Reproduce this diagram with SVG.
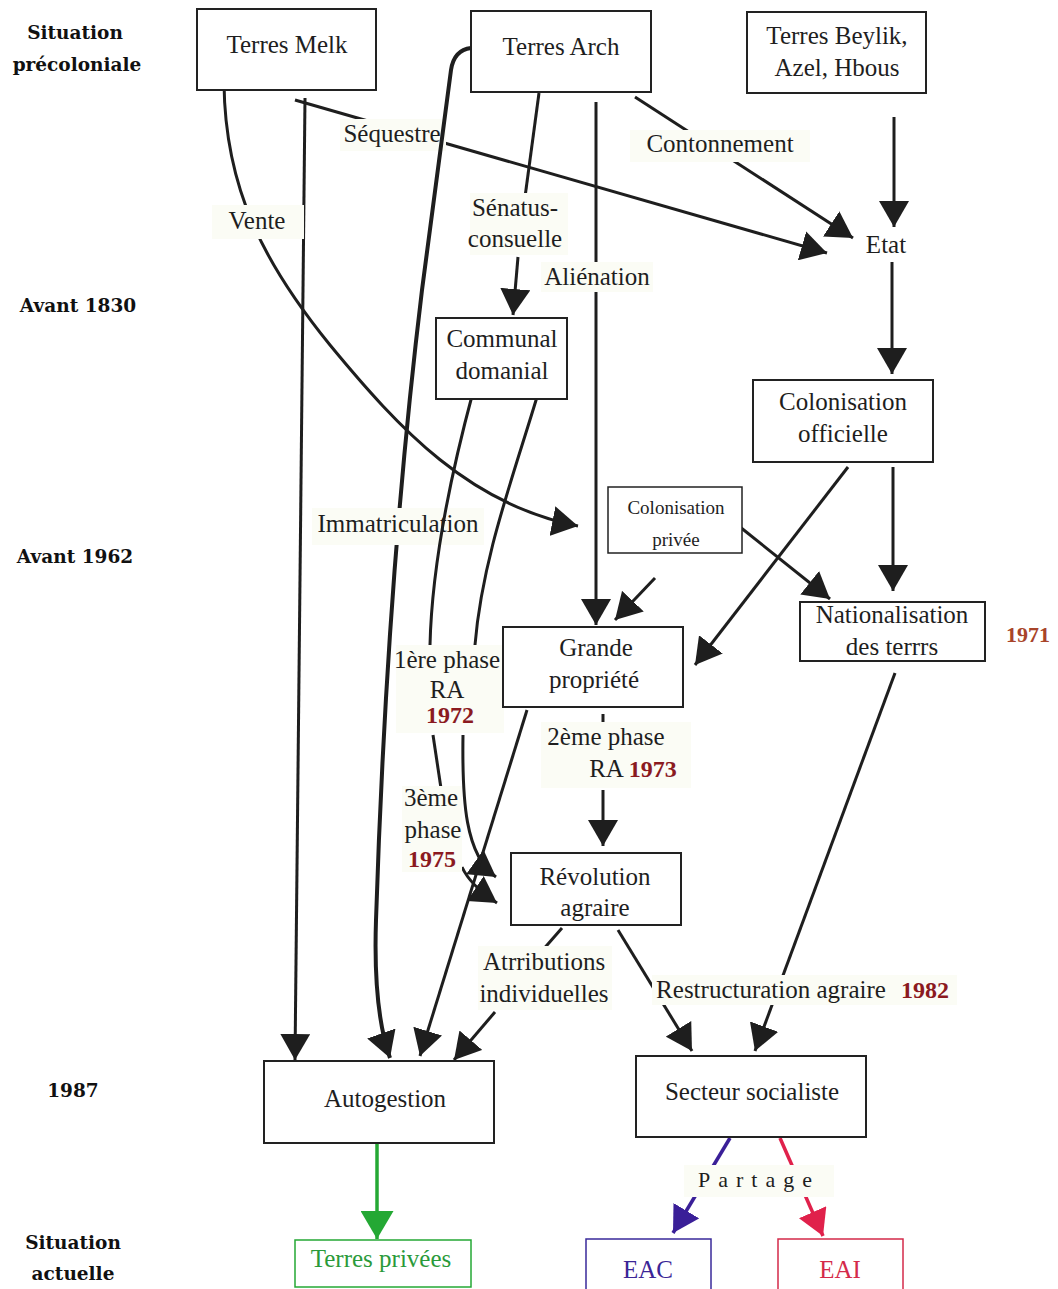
<svg xmlns="http://www.w3.org/2000/svg" width="1058" height="1289" viewBox="0 0 1058 1289">
<style>
  .box { fill: #ffffff; stroke: #222; stroke-width: 2; }
  .t { font-family: "Liberation Serif", "DejaVu Serif", serif; font-size: 25px; fill: #1e1e1e; text-anchor: middle; }
  .ts { font-family: "Liberation Serif", serif; font-size: 19px; fill: #1e1e1e; text-anchor: middle; }
  .yr { font-family: "Liberation Serif", serif; font-size: 24px; font-weight: bold; fill: #8b1a1f; }
  .side { font-family: "DejaVu Serif", "Liberation Serif", serif; font-size: 18.5px; font-weight: bold; fill: #111; text-anchor: middle; }
  .ln { fill: none; stroke: #1e1e1e; stroke-width: 3; }
  .lbg { fill: #fbfcf5; }
</style>
<defs>
  <marker id="ah" viewBox="0 0 26 30" refX="26" refY="15" markerUnits="userSpaceOnUse" markerWidth="26" markerHeight="30" orient="auto">
    <path d="M0,0 L26,15 L0,30 z" fill="#1e1e1e"/>
  </marker>
  <marker id="ahg" viewBox="0 0 28 33" refX="28" refY="16.5" markerUnits="userSpaceOnUse" markerWidth="28" markerHeight="33" orient="auto">
    <path d="M0,0 L28,16.5 L0,33 z" fill="#24a834"/>
  </marker>
  <marker id="ahp" viewBox="0 0 26 30" refX="26" refY="15" markerUnits="userSpaceOnUse" markerWidth="26" markerHeight="30" orient="auto">
    <path d="M0,0 L26,15 L0,30 z" fill="#3a1f98"/>
  </marker>
  <marker id="ahr" viewBox="0 0 26 30" refX="26" refY="15" markerUnits="userSpaceOnUse" markerWidth="26" markerHeight="30" orient="auto">
    <path d="M0,0 L26,15 L0,30 z" fill="#e0214b"/>
  </marker>
</defs>

<g id="period-labels">
  <text class="side" x="75" y="39">Situation</text>
  <text class="side" x="77" y="71">précoloniale</text>
  <text class="side" x="78" y="312">Avant 1830</text>
  <text class="side" x="75" y="563">Avant 1962</text>
  <text class="side" x="73" y="1097">1987</text>
  <text class="side" x="73" y="1249">Situation</text>
  <text class="side" x="73" y="1280">actuelle</text>
</g>

<g id="connectors">
  <!-- Melk -> Autogestion -->
  <path class="ln" d="M305,98 L295,1060" marker-end="url(#ah)"/>
  <!-- Vente -->
  <path class="ln" d="M224,83 C225,190 265,265 330,345 C400,430 470,505 578,526" marker-end="url(#ah)"/>
  <rect class="lbg" x="212" y="205" width="92" height="34"/>
  <text class="t" x="257" y="229">Vente</text>
  <!-- Séquestre -->
  <path class="ln" d="M295,100 L827,253" marker-end="url(#ah)"/>
  <rect class="lbg" x="340" y="119" width="106" height="32"/>
  <text class="t" x="392" y="142">Séquestre</text>
  <!-- Contonnement -->
  <path class="ln" d="M635,97 L853,238" marker-end="url(#ah)"/>
  <rect class="lbg" x="630" y="130" width="180" height="32"/>
  <text class="t" x="720" y="152">Contonnement</text>
  <!-- Beylik -> Etat -->
  <path class="ln" d="M894,117 L894,227" marker-end="url(#ah)"/>
  <!-- Etat -> Colonisation officielle -->
  <path class="ln" d="M892,262 L892,374" marker-end="url(#ah)"/>
  <!-- Sénatus-consuelle -->
  <path class="ln" d="M539,93 L525,197"/>
  <path class="ln" d="M518,257 L513,315" marker-end="url(#ah)"/>
  <rect class="lbg" x="470" y="193" width="98" height="62"/>
  <text class="t" x="515" y="216">Sénatus-</text>
  <text class="t" x="515" y="247">consuelle</text>
  <!-- Aliénation -->
  <path class="ln" d="M596,102 L596,625" marker-end="url(#ah)"/>
  <rect class="lbg" x="541" y="262" width="112" height="30"/>
  <text class="t" x="597" y="285">Aliénation</text>
  <!-- Immatriculation -->
  <path class="ln" style="stroke-width:4" d="M471,48 Q454,50 451,70 L422,290 C405,430 385,640 376,920 Q373,1010 390,1058" marker-end="url(#ah)"/>
  <rect class="lbg" x="312" y="508" width="172" height="37"/>
  <text class="t" x="398" y="532">Immatriculation</text>
  <!-- Communal -> 1ère phase -> 3ème phase -> Révolution -->
  <path class="ln" d="M473,392 C452,470 432,560 430,645"/>
  <path class="ln" d="M433,735 L442,795"/>
  <path class="ln" d="M462,867 Q470,885 497,903" marker-end="url(#ah)"/>
  <!-- Communal -> 1ère phase -> Révolution -->
  <path class="ln" d="M537,397 C512,480 482,560 475,645"/>
  <path class="ln" d="M463,735 C462,800 465,855 496,877" marker-end="url(#ah)"/>
  <rect class="lbg" x="396" y="645" width="108" height="88"/>
  <text class="t" x="447" y="668">1ère phase</text>
  <text class="t" x="447" y="698">RA</text>
  <text class="yr" x="450" y="723" text-anchor="middle">1972</text>
  <rect class="lbg" x="402" y="786" width="60" height="86"/>
  <text class="t" x="431" y="806">3ème</text>
  <text class="t" x="433" y="838">phase</text>
  <text class="yr" x="432" y="867" text-anchor="middle">1975</text>
  <!-- Colonisation privée -> Grande propriété -->
  <path class="ln" d="M655,578 L615,620" marker-end="url(#ah)"/>
  <!-- Colonisation officielle -> Grande propriété -->
  <path class="ln" d="M848,467 L695,665" marker-end="url(#ah)"/>
  <!-- Colonisation privée -> Nationalisation -->
  <path class="ln" d="M740,527 L830,599" marker-end="url(#ah)"/>
  <!-- Colonisation officielle -> Nationalisation -->
  <path class="ln" d="M893,467 L893,591" marker-end="url(#ah)"/>
  <!-- Grande -> Autogestion -->
  <path class="ln" d="M527,710 L420,1056" marker-end="url(#ah)"/>
  <!-- Grande -> 2ème phase -> Révolution -->
  <path class="ln" d="M603,714 L603,735"/>
  <path class="ln" d="M603,790 L603,846" marker-end="url(#ah)"/>
  <rect class="lbg" x="541" y="722" width="150" height="66"/>
  <text class="t" x="606" y="745">2ème phase</text>
  <text class="t" x="633" y="777">RA <tspan style="font-weight:bold;font-size:24px;fill:#8b1a1f">1973</tspan></text>
  <!-- Nationalisation -> Secteur socialiste -->
  <path class="ln" d="M895,673 L755,1051" marker-end="url(#ah)"/>
  <!-- Révolution -> Secteur socialiste (Restructuration) -->
  <path class="ln" d="M618,930 L692,1051" marker-end="url(#ah)"/>
  <rect class="lbg" x="652" y="975" width="305" height="30"/>
  <text class="t" x="771" y="998">Restructuration agraire</text>
  <text class="yr" x="925" y="998" text-anchor="middle">1982</text>
  <!-- Révolution -> Autogestion (Atrributions) -->
  <path class="ln" d="M562,928 L541,952"/>
  <path class="ln" d="M495,1012 L454,1060" marker-end="url(#ah)"/>
  <rect class="lbg" x="478" y="946" width="134" height="64"/>
  <text class="t" x="544" y="970">Atrributions</text>
  <text class="t" x="544" y="1002">individuelles</text>
  <!-- Autogestion -> Terres privées -->
  <path d="M377,1143 L377,1239" fill="none" stroke="#24a834" stroke-width="3.5" marker-end="url(#ahg)"/>
  <!-- Secteur -> EAC -->
  <path d="M730,1138 L673,1233" fill="none" stroke="#3a1f98" stroke-width="3.5" marker-end="url(#ahp)"/>
  <!-- Secteur -> EAI -->
  <path d="M780,1138 L823,1236" fill="none" stroke="#e0214b" stroke-width="3.5" marker-end="url(#ahr)"/>
  <rect class="lbg" x="684" y="1165" width="150" height="32"/>
  <text x="698" y="1187" style="font-family:'Liberation Serif',serif;font-size:22px;letter-spacing:8px;fill:#1e1e1e">Partage</text>
</g>

<g id="terres-melk">
  <rect class="box" x="197" y="9" width="179" height="81"/>
  <text class="t" x="287" y="53">Terres Melk</text>
</g>
<g id="terres-arch">
  <rect class="box" x="471" y="11" width="180" height="81"/>
  <text class="t" x="561" y="55">Terres Arch</text>
</g>
<g id="terres-beylik">
  <rect class="box" x="747" y="12" width="179" height="81"/>
  <text class="t" x="837" y="44">Terres Beylik,</text>
  <text class="t" x="837" y="76">Azel, Hbous</text>
</g>
<g id="etat">
  <text class="t" x="886" y="253">Etat</text>
</g>
<g id="communal-domanial">
  <rect class="box" x="436" y="318" width="131" height="81"/>
  <text class="t" x="502" y="347">Communal</text>
  <text class="t" x="502" y="379">domanial</text>
</g>
<g id="colonisation-officielle">
  <rect class="box" x="753" y="380" width="180" height="82"/>
  <text class="t" x="843" y="410">Colonisation</text>
  <text class="t" x="843" y="442">officielle</text>
</g>
<g id="colonisation-privee">
  <rect class="box" x="608" y="487" width="134" height="66" style="stroke-width:1.5"/>
  <text class="ts" x="676" y="514">Colonisation</text>
  <text class="ts" x="676" y="546">privée</text>
</g>
<g id="nationalisation">
  <rect class="box" x="800" y="602" width="185" height="59"/>
  <text class="t" x="892" y="623">Nationalisation</text>
  <text class="t" x="892" y="655">des terrrs</text>
  <text x="1028" y="642" text-anchor="middle" style="font-family:'Liberation Serif',serif;font-size:22px;font-weight:bold;fill:#a8442a">1971</text>
</g>
<g id="grande-propriete">
  <rect class="box" x="503" y="627" width="180" height="80"/>
  <text class="t" x="596" y="656">Grande</text>
  <text class="t" x="594" y="688">propriété</text>
</g>
<g id="revolution-agraire">
  <rect class="box" x="511" y="853" width="170" height="72"/>
  <text class="t" x="595" y="885">Révolution</text>
  <text class="t" x="595" y="916">agraire</text>
</g>
<g id="autogestion">
  <rect class="box" x="264" y="1061" width="230" height="82"/>
  <text class="t" x="385" y="1107">Autogestion</text>
</g>
<g id="secteur-socialiste">
  <rect class="box" x="636" y="1056" width="230" height="81"/>
  <text class="t" x="752" y="1100">Secteur socialiste</text>
</g>
<g id="terres-privees">
  <rect x="295" y="1240" width="176" height="47" fill="#fff" stroke="#24a834" stroke-width="1.5"/>
  <text class="t" x="381" y="1267" style="fill:#2a9a3a">Terres privées</text>
</g>
<g id="eac">
  <rect x="586" y="1239" width="125" height="55" fill="#fff" stroke="#3a2a9a" stroke-width="1.5"/>
  <text class="t" x="648" y="1278" style="fill:#3b2596">EAC</text>
</g>
<g id="eai">
  <rect x="778" y="1239" width="125" height="55" fill="#fff" stroke="#d42a4a" stroke-width="1.5"/>
  <text class="t" x="840" y="1278" style="fill:#d42a4a">EAI</text>
</g>
</svg>
